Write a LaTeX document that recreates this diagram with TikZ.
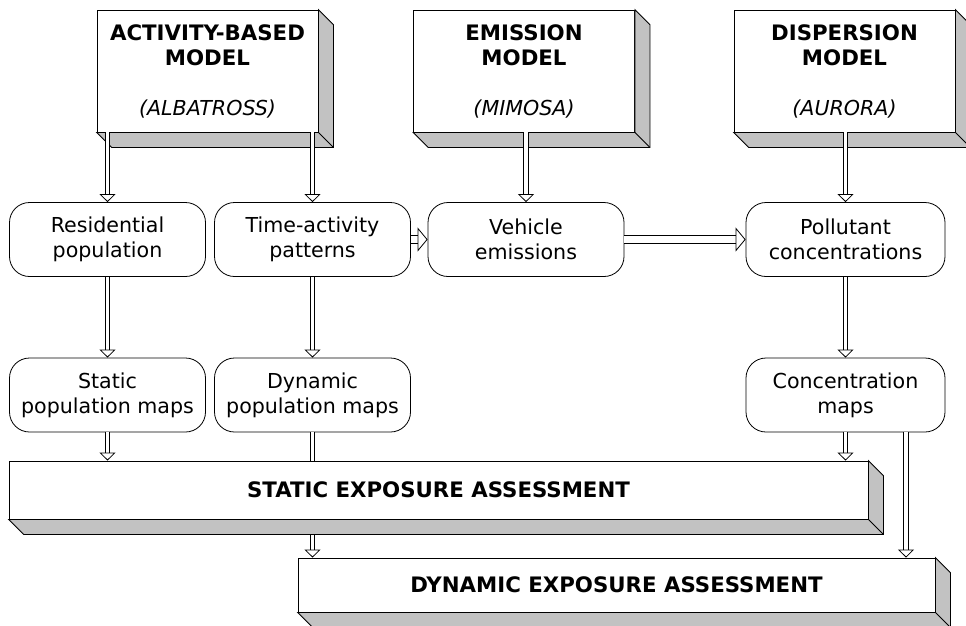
\documentclass[tikz,border=0pt]{standalone}
\usepackage{fontspec}
\setmainfont{DejaVu Sans}
\usetikzlibrary{arrows.meta}
\definecolor{slabgray}{gray}{0.76}

% grey depth faces under and right of a box
\newcommand{\slab}[1]{
	\filldraw[fill=slabgray] (#1.south west) -- ([shift={(15,15)}]#1.south west) -- ([shift={(15,15)}]#1.south east) -- ([shift={(15,15)}]#1.north east) -- (#1.north east) -- (#1.south east) -- cycle;
	\draw (#1.south east) -- ++(15,15);
}

\begin{document}
\begin{tikzpicture}[x=1pt,y=-1pt,line width=0.8pt,
	model/.style={draw,fill=white,minimum width=221pt,minimum height=122pt,inner sep=0pt,align=center,font=\fontsize{20.6}{25}\selectfont},
	stage/.style={draw,fill=white,rounded corners=20pt,minimum width=196pt,minimum height=74pt,inner sep=0pt,align=center,font=\fontsize{20.6}{25}\selectfont},
	assess/.style={draw,fill=white,inner sep=0pt,font=\bfseries\fontsize{21.3}{25}\selectfont},
	pipe/.style={double,double distance=3.5pt,-{Triangle[open,length=8pt,width=16pt]}},
	widepipe/.style={double,double distance=7pt,-{Triangle[open,length=10pt,width=24pt]}}]
	\useasboundingbox (0,0) rectangle (966,625);

	% models
	\node[model] (abm) at (207.5,71) {\textbf{\fontsize{21.3}{25}\selectfont ACTIVITY-BASED}\\\textbf{\fontsize{21.3}{25}\selectfont MODEL}\\[25pt]\textit{(ALBATROSS)}};
	\slab{abm}
	\node[model] (emm) at (524,71) {\textbf{\fontsize{21.3}{25}\selectfont EMISSION}\\\textbf{\fontsize{21.3}{25}\selectfont MODEL}\\[25pt]\textit{(MIMOSA)}};
	\slab{emm}
	\node[model] (dsm) at (844.5,71) {\textbf{\fontsize{21.3}{25}\selectfont DISPERSION}\\\textbf{\fontsize{21.3}{25}\selectfont MODEL}\\[25pt]\textit{(AURORA)}};
	\slab{dsm}

	% intermediate results
	\node[stage] (res) at (107.5,239.5) {Residential\\population};
	\node[stage] (tap) at (312.5,239.5) {Time-activity\\patterns};
	\node[stage] (veh) at (526,239.5) {Vehicle\\emissions};
	\node[stage,minimum width=199pt] (pol) at (845.5,239.5) {Pollutant\\concentrations};
	\node[stage] (spm) at (107.5,395) {Static\\population maps};
	\node[stage] (dpm) at (312.5,395) {Dynamic\\population maps};
	\node[stage,minimum width=199pt] (cmap) at (845.5,395) {Concentration\\maps};
	\coordinate (cmapout) at (906,432);

	\draw[pipe] (abm.south -| res) -- (res.north);
	\draw[pipe] (abm.south -| tap) -- (tap.north);
	\draw[pipe] (emm.south -| veh) -- (veh.north);
	\draw[pipe] (dsm.south -| pol) -- (pol.north);
	\draw[widepipe] (tap) -- (veh);
	\draw[widepipe] (veh) -- (pol);
	\draw[pipe] (res) -- (spm);
	\draw[pipe] (tap) -- (dpm);
	\draw[pipe] (pol) -- (cmap);

	% assessments
	\node[assess,minimum width=637pt,minimum height=54pt] (dea) at (616.5,585) {DYNAMIC EXPOSURE ASSESSMENT};
	\slab{dea}
	\draw[pipe] (dpm.south) -- (dpm.south |- dea.north);
	\node[assess,minimum width=859pt,minimum height=58pt] (sea) at (438.5,490) {STATIC EXPOSURE ASSESSMENT};
	\slab{sea}
	\draw[pipe] (spm.south) -- (spm.south |- sea.north);
	\draw[pipe] (cmap.south) -- (cmap.south |- sea.north);
	\draw[pipe] (cmapout) -- (cmapout |- dea.north);
\end{tikzpicture}
\end{document}
